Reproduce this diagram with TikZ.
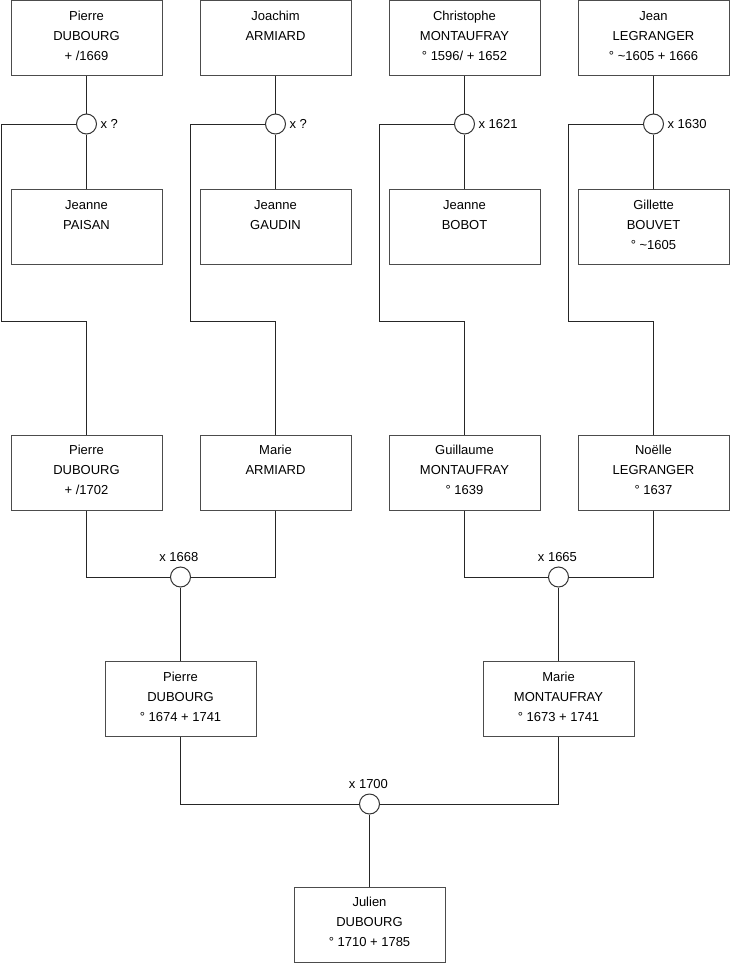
\documentclass[tikz,border=0pt]{standalone}
\usepackage{fontspec}
\setmainfont{Liberation Sans}
\newcommand\lnstrut{\rule[-5.85pt]{0pt}{15pt}}
\begin{document}
\begin{tikzpicture}[x=0.75pt,y=-0.75pt,
  box/.style={draw=black!70, line width=0.75pt, minimum width=113.25pt, minimum height=56.25pt,
    inner sep=0pt, align=center, font=\fontsize{9.75}{15}\selectfont},
  wed/.style={circle, draw=black!80, line width=0.75pt, minimum size=15pt, inner sep=0pt, fill=white},
  lab/.style={font=\fontsize{9.75}{12}\selectfont, inner sep=0pt},
  link/.style={draw=black!85, line width=0.75pt}]
\useasboundingbox (0,0) rectangle (740,975);

% row 1
\node[box] (a1) at (86.5,38) {\lnstrut Pierre\\\lnstrut DUBOURG\\\lnstrut + /1669};
\node[box] (a2) at (275.5,38) {\lnstrut Joachim\\\lnstrut ARMIARD\\\lnstrut};
\node[box] (a3) at (464.5,38) {\lnstrut Christophe\\\lnstrut MONTAUFRAY\\\lnstrut ° 1596/ + 1652};
\node[box] (a4) at (653.5,38) {\lnstrut Jean\\\lnstrut LEGRANGER\\\lnstrut ° \textasciitilde 1605 + 1666};

% row 2
\node[box] (b1) at (86.5,227) {\lnstrut Jeanne\\\lnstrut PAISAN\\\lnstrut};
\node[box] (b2) at (275.5,227) {\lnstrut Jeanne\\\lnstrut GAUDIN\\\lnstrut};
\node[box] (b3) at (464.5,227) {\lnstrut Jeanne\\\lnstrut BOBOT\\\lnstrut};
\node[box] (b4) at (653.5,227) {\lnstrut Gillette\\\lnstrut BOUVET\\\lnstrut ° \textasciitilde 1605};

% row 3
\node[box] (c1) at (86.5,472.5) {\lnstrut Pierre\\\lnstrut DUBOURG\\\lnstrut + /1702};
\node[box] (c2) at (275.5,472.5) {\lnstrut Marie\\\lnstrut ARMIARD\\\lnstrut};
\node[box] (c3) at (464.5,472.5) {\lnstrut Guillaume\\\lnstrut MONTAUFRAY\\\lnstrut ° 1639};
\node[box] (c4) at (653.5,472.5) {\lnstrut Noëlle\\\lnstrut LEGRANGER\\\lnstrut ° 1637};

% row 4
\node[box] (d1) at (180.5,699) {\lnstrut Pierre\\\lnstrut DUBOURG\\\lnstrut ° 1674 + 1741};
\node[box] (d2) at (558.5,699) {\lnstrut Marie\\\lnstrut MONTAUFRAY\\\lnstrut ° 1673 + 1741};

% row 5
\node[box] (e1) at (369.5,924.5) {\lnstrut Julien\\\lnstrut DUBOURG\\\lnstrut ° 1710 + 1785};

% marriage circles
\node[wed] (m1) at (86.5,124) {};
\node[wed] (m2) at (275.5,124) {};
\node[wed] (m3) at (464.5,124) {};
\node[wed] (m4) at (653.5,124) {};
\node[wed] (m5) at (180.5,577) {};
\node[wed] (m6) at (558.5,577) {};
\node[wed] (m7) at (369.5,804) {};

% bend coordinates
\coordinate (k1) at (1,321);
\coordinate (k2) at (190,321);
\coordinate (k3) at (379,321);
\coordinate (k4) at (568,321);

% connectors
\foreach \i in {1,2,3,4}{
  \draw[link] (a\i.south) -- (m\i.north);
  \draw[link] (m\i.south) -- (b\i.north);
  \draw[link] (m\i.west) -| (k\i) -| (c\i.north);
}
\draw[link] (c1.south) |- (m5.west);
\draw[link] (c2.south) |- (m5.east);
\draw[link] (c3.south) |- (m6.west);
\draw[link] (c4.south) |- (m6.east);
\draw[link] (m5.south) -- (d1.north);
\draw[link] (m6.south) -- (d2.north);
\draw[link] (d1.south) |- (m7.west);
\draw[link] (d2.south) |- (m7.east);
\draw[link] (m7.south) -- (e1.north);

% labels
\node[lab, anchor=west] (l1) at ([xshift=2.5pt]m1.east) {x ?};
\node[lab, anchor=west] (l2) at ([xshift=2.5pt]m2.east) {x ?};
\node[lab, anchor=west] (l3) at ([xshift=2.5pt]m3.east) {x 1621};
\node[lab, anchor=west] (l4) at ([xshift=2.5pt]m4.east) {x 1630};
\node[lab, anchor=south] (l5) at ([xshift=-1.2pt,yshift=3.3pt]m5.north) {x 1668};
\node[lab, anchor=south] (l6) at ([xshift=-0.8pt,yshift=3.3pt]m6.north) {x 1665};
\node[lab, anchor=south] (l7) at ([xshift=-0.8pt,yshift=3.3pt]m7.north) {x 1700};
\end{tikzpicture}
\end{document}
